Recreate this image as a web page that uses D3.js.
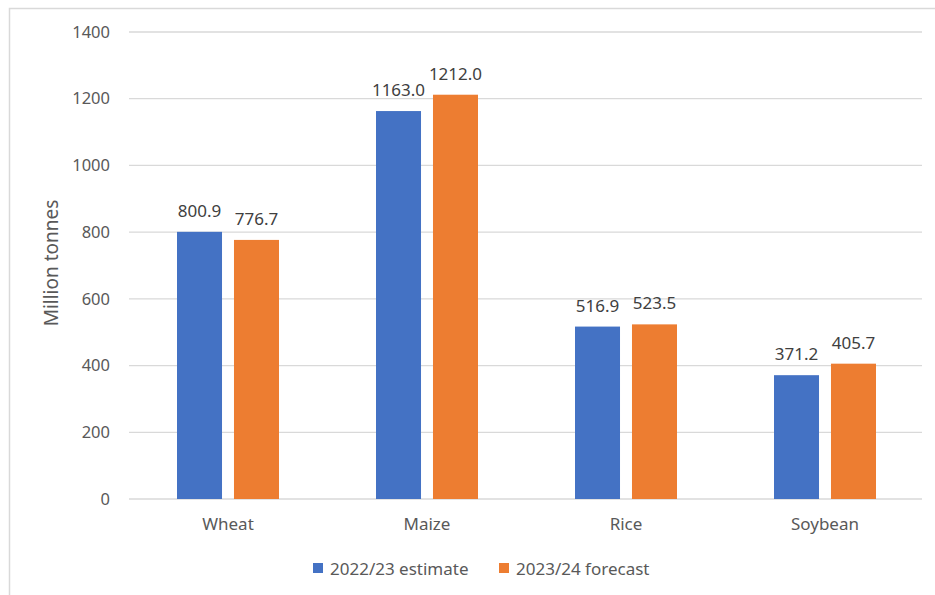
<!DOCTYPE html>
<html lang="en">
<head>
    <meta charset="UTF-8">
    <script src="https://d3js.org/d3.v7.min.js"></script>
    <title>Cereal production</title>
    <style>
        body { margin: 0; background: #fff; }
        text { font-family: "Noto Sans", sans-serif; }
        .grid line { stroke: #d9d9d9; stroke-width: 1.3px; }
        .tick-label { font-size: 16.5px; fill: #595959; }
        .cat-label { font-size: 17px; fill: #595959; }
        .axis-title { font-size: 19px; fill: #595959; }
        .value-label { font-size: 17px; fill: #404040; }
        .legend text { font-size: 17px; fill: #595959; }
    </style>
</head>
<body>
    <svg width="935" height="595"></svg>
    <script>
        var categories = ["Wheat", "Maize", "Rice", "Soybean"];
        var seriesNames = ["2022/23 estimate", "2023/24 forecast"];
        var estimate2223 = [800.9, 1163.0, 516.9, 371.2];
        var forecast2324 = [776.7, 1212.0, 523.5, 405.7];
        var yTicks = [0, 200, 400, 600, 800, 1000, 1200, 1400];
        var colors = ["#4472c4", "#ed7d31"];

        var svg = d3.select("svg");

        // chart area border (runs off the right and bottom edges)
        svg.append("rect")
            .attr("x", 9.5).attr("y", 8.5)
            .attr("width", 960).attr("height", 620)
            .attr("fill", "none").attr("stroke", "#d9d9d9").attr("stroke-width", 1.5);

        var x = d3.scaleBand().domain(categories).range([128.5, 924.5]);
        var xs = d3.scaleBand().domain(seriesNames).range([0, 102]).paddingInner(0.21);
        var y = d3.scaleLinear().domain([0, 1400]).range([499, 32]);

        var grid = svg.append("g").attr("class", "grid");
        grid.selectAll("line").data(yTicks).enter().append("line")
            .attr("x1", 129).attr("x2", 922)
            .attr("y1", d => y(d)).attr("y2", d => y(d));

        svg.append("g").selectAll("text").data(yTicks).enter().append("text")
            .attr("class", "tick-label")
            .attr("x", 110).attr("y", d => y(d))
            .attr("dy", "0.35em")
            .attr("text-anchor", "end")
            .text(d => d);

        svg.append("text")
            .attr("class", "axis-title")
            .attr("transform", "translate(58,263) rotate(-90)")
            .attr("text-anchor", "middle")
            .text("Million tonnes");

        var rows = categories.map((c, i) => ({
            cat: c,
            vals: [
                { s: seriesNames[0], v: estimate2223[i] },
                { s: seriesNames[1], v: forecast2324[i] }
            ]
        }));

        var groups = svg.append("g").selectAll("g").data(rows).enter().append("g")
            .attr("transform", d => "translate(" + (x(d.cat) + x.bandwidth() / 2 - 51) + ",0)");

        groups.selectAll("rect").data(d => d.vals).enter().append("rect")
            .attr("x", d => xs(d.s))
            .attr("width", xs.bandwidth())
            .attr("y", d => y(d.v))
            .attr("height", d => y(0) - y(d.v))
            .attr("fill", (d, i) => colors[i]);

        groups.selectAll("text").data(d => d.vals).enter().append("text")
            .attr("class", "value-label")
            .attr("x", d => xs(d.s) + xs.bandwidth() / 2)
            .attr("y", d => y(d.v) - 15)
            .attr("text-anchor", "middle")
            .text(d => d.v.toFixed(1));

        svg.append("g").selectAll("text").data(categories).enter().append("text")
            .attr("class", "cat-label")
            .attr("x", d => x(d) + x.bandwidth() / 2)
            .attr("y", 530)
            .attr("text-anchor", "middle")
            .text(d => d);

        var legend = svg.append("g").attr("class", "legend");
        var legendX = [313, 499];
        seriesNames.forEach(function(name, i) {
            legend.append("rect")
                .attr("x", legendX[i]).attr("y", 563)
                .attr("width", 10).attr("height", 10)
                .attr("fill", colors[i]);
            legend.append("text")
                .attr("x", legendX[i] + 17).attr("y", 575)
                .text(name);
        });
    </script>
</body>
</html>
